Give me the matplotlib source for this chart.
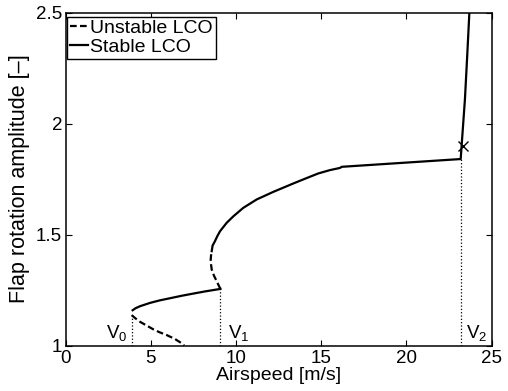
import matplotlib.pyplot as plt

plt.rcParams['font.family'] = ['Liberation Sans', 'DejaVu Sans']
plt.rcParams['mathtext.fontset'] = 'custom'
plt.rcParams['mathtext.rm'] = 'Liberation Sans'
plt.rcParams['mathtext.it'] = 'Liberation Sans:italic'

# unstable LCO branches
unst_low_v = [3.87, 4.1, 4.36, 4.75, 5.14, 5.5, 5.93, 6.4, 6.81, 6.95]
unst_low_a = [1.137, 1.122, 1.107, 1.09, 1.073, 1.06, 1.047, 1.03, 1.01, 1.0]
unst_mid_v = [9.08, 8.97, 8.86, 8.7, 8.57, 8.53, 8.51, 8.53, 8.57]
unst_mid_a = [1.255, 1.272, 1.29, 1.315, 1.342, 1.365, 1.387, 1.405, 1.425]

# stable LCO branches
st_low_v = [3.93, 4.1, 4.36, 4.95, 5.5, 6.12, 6.8, 7.49, 8.2, 9.08]
st_low_a = [1.159, 1.168, 1.177, 1.192, 1.203, 1.213, 1.224, 1.234, 1.244, 1.255]
st_up_v = [8.57, 8.62, 8.76, 8.9, 9.06, 9.45, 9.84, 10.42, 11.21, 12.18, 13.36,
           14.1, 14.82, 15.5, 16.1, 16.2, 23.18, 23.3, 23.43, 23.56, 23.69, 23.75]
st_up_a = [1.425, 1.45, 1.47, 1.493, 1.515, 1.553, 1.582, 1.62, 1.658, 1.692, 1.73,
           1.753, 1.775, 1.79, 1.80, 1.805, 1.84, 1.97, 2.11, 2.3, 2.5, 2.6]

# bifurcation speeds
v_marks = [3.87, 9.08, 23.22]
a_marks = [1.137, 1.255, 1.84]
v_names = ['V$_0$', 'V$_1$', 'V$_2$']
v_text_x = [2.37, 9.54, 23.5]

cross_v = 23.3
cross_a = 1.9

fig = plt.figure(figsize=(5.08, 3.91), dpi=100)
ax = fig.add_axes([0.1293, 0.1163, 0.8386, 0.8517])

ax.plot(unst_low_v, unst_low_a, 'k--', lw=1.6, dashes=(3, 1.5), label='Unstable LCO')
ax.plot(unst_mid_v, unst_mid_a, 'k--', lw=1.6, dashes=(3, 1.5))
ax.plot(st_low_v, st_low_a, 'k-', lw=1.6, label='Stable LCO')
ax.plot(st_up_v, st_up_a, 'k-', lw=1.6)
ax.plot(cross_v, cross_a, 'kx', ms=7, mew=1)

for v, a, n, tx in zip(v_marks, a_marks, v_names, v_text_x):
    ax.plot([v, v], [1, a], 'k:', lw=0.9)
    ax.text(tx, 1.034, n, fontsize=13.5)

ax.set_xlim(0, 25)
ax.set_ylim(1, 2.5)
ax.set_xticks([0, 5, 10, 15, 20, 25])
ax.set_yticks([1, 1.5, 2, 2.5])
ax.set_yticklabels(['1', '1.5', '2', '2.5'])
ax.tick_params(direction='in', top=True, right=True, labelsize=13.5, length=4,
               width=0.8)
ax.tick_params(axis='x', pad=3)
ax.tick_params(axis='y', pad=2.5)
ax.set_xlabel('Airspeed [m/s]', fontsize=14, labelpad=0)
ax.set_ylabel('Flap rotation amplitude [–]', fontsize=15.5, labelpad=4)
for s in ax.spines.values():
    s.set_linewidth(1.1)

leg = ax.legend(loc='upper left', bbox_to_anchor=(0.003, 0.988), fontsize=14,
                handlelength=0.95, handletextpad=0.1, borderpad=0.15,
                labelspacing=0.05, borderaxespad=0, fancybox=False, framealpha=1)
leg.get_frame().set_edgecolor('k')
leg.get_frame().set_linewidth(1.0)

fig.savefig('out.png', dpi=100)
